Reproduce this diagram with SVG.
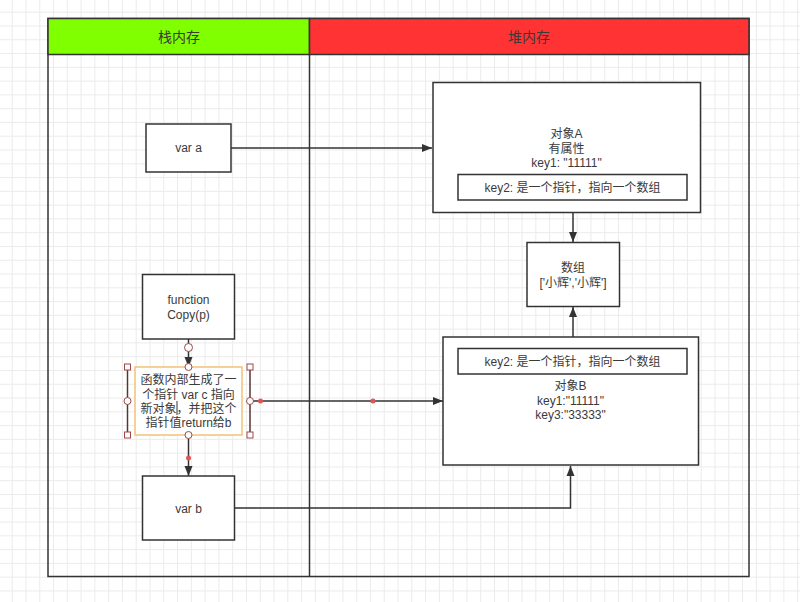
<svg xmlns="http://www.w3.org/2000/svg" width="800" height="602" viewBox="0 0 800 602">
<style>
text{font-family:"Liberation Sans","Noto Sans CJK SC",sans-serif;font-size:12px;fill:#3a3a3a;text-anchor:middle;dominant-baseline:central}
.box{fill:#fff;stroke:#333;stroke-width:1.5}
.con{fill:none;stroke:#333;stroke-width:1.5}
.hdr{font-size:14px}
.h{fill:#fff;stroke:#a04848;stroke-width:1}
.dot{fill:#e05555}
</style>
<defs>
<pattern id="grid" patternUnits="userSpaceOnUse" x="11.7" y="11.7" width="13.78" height="13.78">
<path d="M0,0.5H13.78M0.5,0V13.78" fill="none" stroke="#ebebeb" stroke-width="1"/>
</pattern>
<marker id="arr" viewBox="0 0 10 10" refX="10" refY="5" markerWidth="10" markerHeight="10" markerUnits="userSpaceOnUse" orient="auto">
<path d="M0,1 L10,5 L0,9 Z" fill="#333"/>
</marker>
</defs>
<rect width="800" height="602" fill="#fff"/>
<rect width="800" height="602" fill="url(#grid)"/>

<g id="pool">
<rect x="48" y="18.5" width="701" height="558" fill="none" stroke="#333" stroke-width="1.5"/>
<rect x="48" y="18.5" width="261.5" height="36" fill="#80ff00" stroke="#333" stroke-width="1.5"/>
<rect x="309.5" y="18.5" width="439.5" height="36" fill="#ff3333" stroke="#333" stroke-width="1.5"/>
<line x1="309.5" y1="54.5" x2="309.5" y2="576.5" stroke="#333" stroke-width="1.5"/>
<text class="hdr" x="179" y="37">栈内存</text>
<text class="hdr" x="529" y="37">堆内存</text>
</g>

<g id="connectors">
<path class="con" d="M231,148 H432" marker-end="url(#arr)"/>
<path class="con" d="M573,200 V242" marker-end="url(#arr)"/>
<path class="con" d="M573,348.5 V307" marker-end="url(#arr)"/>
<path class="con" d="M234,508 H570.5 V466" marker-end="url(#arr)"/>
<path class="con" d="M250,401 H443" marker-end="url(#arr)"/>
<path class="con" d="M188.5,339 V367" marker-end="url(#arr)"/>
<path class="con" d="M188.5,435 V476" marker-end="url(#arr)"/>
</g>

<g id="varA">
<rect class="box" x="146" y="124" width="85" height="48"/>
<text x="188.5" y="148">var a</text>
</g>

<g id="objA">
<rect class="box" x="433" y="82.5" width="267.5" height="130"/>
<text x="566.5" y="133.5">对象A</text>
<text x="566.5" y="148.5">有属性</text>
<text x="566.5" y="163">key1: "11111"</text>
</g>
<g id="objA-key2">
<rect class="box" x="458" y="174.5" width="229" height="25.5"/>
<text x="572.5" y="188">key2: 是一个指针，指向一个数组</text>
</g>

<g id="array">
<rect class="box" x="527" y="242.5" width="92.5" height="64"/>
<text x="573" y="268">数组</text>
<text x="573" y="283">['小辉','小辉']</text>
</g>

<g id="objB">
<rect class="box" x="443" y="337" width="255.5" height="128"/>
<text x="570.5" y="386">对象B</text>
<text x="570.5" y="401">key1:"11111"</text>
<text x="570.5" y="415">key3:"33333"</text>
</g>
<g id="objB-key2">
<rect class="box" x="458" y="348.5" width="229" height="25.5"/>
<text x="572.5" y="361.5">key2: 是一个指针，指向一个数组</text>
</g>

<g id="func">
<rect class="box" x="142.5" y="274.5" width="92" height="64.5"/>
<text x="188.5" y="300">function</text>
<text x="188.5" y="315">Copy(p)</text>
</g>

<g id="varB">
<rect class="box" x="142.5" y="476" width="92" height="64"/>
<text x="188.5" y="509">var b</text>
</g>

<g id="inner">
<rect x="135" y="367" width="107" height="68" fill="#fff" stroke="#f2c27a" stroke-width="1.5"/>
<line x1="127.5" y1="367" x2="127.5" y2="435" stroke="#5a3434" stroke-width="1.5"/>
<line x1="250" y1="367" x2="250" y2="435" stroke="#5a3434" stroke-width="1.5"/>
<text x="188.5" y="380">函数内部生成了一</text>
<text x="188.5" y="394.5">个指针 var c 指向</text>
<text x="188.5" y="408.5">新对象，并把这个</text>
<text x="188.5" y="423">指针值return给b</text>
<line x1="177" y1="401" x2="177" y2="415" stroke="#333" stroke-width="1"/>
</g>

<g id="handles">
<rect class="h" x="124.5" y="364" width="6" height="6"/>
<rect class="h" x="247" y="364" width="6" height="6"/>
<rect class="h" x="124.5" y="432" width="6" height="6"/>
<rect class="h" x="247" y="432" width="6" height="6"/>
<circle class="h" cx="127.5" cy="401" r="3.5"/>
<circle class="h" cx="250" cy="401" r="3.5"/>
<circle class="h" cx="188.5" cy="367" r="3.5"/>
<circle class="h" cx="188.5" cy="435" r="3.5"/>
<circle class="h" cx="188.5" cy="347.5" r="4"/>
<circle class="dot" cx="260.5" cy="401" r="2.5"/>
<circle class="dot" cx="373" cy="401" r="2.5"/>
<circle class="dot" cx="188.5" cy="458" r="2.5"/>
</g>
</svg>
